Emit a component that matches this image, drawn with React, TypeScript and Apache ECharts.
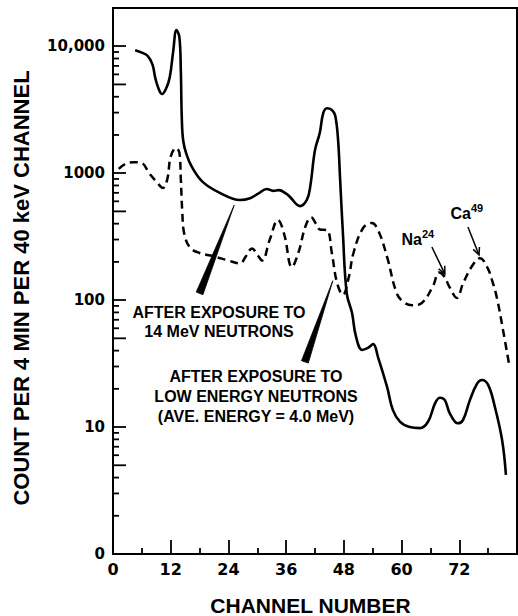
import React, { useEffect, useRef } from 'react';
import * as echarts from 'echarts';

// ---- Axis ticks / labels ----
const xTickValues = [0, 12, 24, 36, 48, 60, 72];
const xTickLabels = ['0', '12', '24', '36', '48', '60', '72'];
const yTickValues = [1, 10, 100, 1000, 10000];
const yTickLabels = ['0', '10', '100', '1000', '10,000'];
const yMinorTickValues = [
  2, 3, 4, 5, 6, 7, 8, 9,
  20, 30, 40, 50, 60, 70, 80, 90,
  200, 300, 400, 500, 600, 700, 800, 900,
  2000, 3000, 4000, 5000, 6000, 7000, 8000, 9000,
];
const yMidTickValues = [5, 50, 500, 5000];

// ---- After exposure to 14 MeV neutrons (solid) ----
const solidChannels = [
  4.6, 6.0, 7.2, 8.2, 8.8, 9.5, 10.2, 11.0, 11.8, 12.5, 13.2, 13.8, 14.1, 14.3, 14.6, 15.3, 16.4,
  18.7, 22.2, 26.4, 28.5, 30.2, 32.0, 33.3, 34.5, 36.0, 36.8, 38.9, 40.3, 41.0, 42.0, 43.0, 43.7,
  44.5, 45.5, 46.2, 46.8, 47.2, 47.8, 48.6, 49.7, 50.5, 51.8, 53.0, 54.1, 55.1, 57.0, 58.2, 59.7,
  61.7, 63.8, 65.5, 67.0, 68.0, 69.0, 70.0, 71.7, 72.8, 74.2, 75.7, 76.7, 78.0, 79.4, 80.9, 81.7,
];
const solidCounts = [
  9300, 8900, 8400, 7200, 5600, 4600, 4200, 4600, 5700, 9000, 13400, 11800, 6500, 2750, 1800, 1400, 1120,
  850, 700, 615, 635, 690, 750, 725, 735, 690, 650, 550, 615, 780, 1520, 2080, 2960,
  3250, 3150, 2850, 1820, 930, 338, 113, 79, 52, 40.5, 42, 45, 35.6, 20.6, 13.6, 11,
  10, 9.8, 11, 15.5, 17, 16.3, 12.9, 10.7, 11.4, 16.3, 22, 23.5, 21.5, 14.4, 7.9, 4.2,
];

// ---- After exposure to low energy neutrons (dashed) ----
const dashedChannels = [
  1.2, 2.5, 4.2, 6.0, 7.5, 9.0, 10.4, 11.3, 12.0, 13.1, 13.8, 14.1, 14.4, 14.8, 16.0, 18.0, 20.8,
  24.0, 26.4, 27.6, 28.9, 30.0, 31.0, 32.6, 34.3, 35.6, 37.2, 38.6, 40.0, 41.2, 42.2, 43.0, 44.5,
  45.5, 46.6, 47.8, 49.0, 50.0, 52.0, 53.8, 55.2, 57.0, 59.0, 60.5, 62.2, 64.2, 66.5, 67.8, 68.8,
  70.0, 71.5, 72.8, 74.8, 76.3, 77.8, 78.8, 79.8, 81.1, 82.3,
];
const dashedCounts = [
  1080, 1180, 1220, 1200, 1000, 860, 765, 900, 1350, 1580, 1450, 900, 500, 335, 260, 235, 222,
  205, 195, 220, 255, 228, 205, 300, 427, 330, 182, 240, 380, 450, 400, 360, 355,
  235, 136, 110, 150, 235, 370, 405, 350, 218, 113, 96, 91, 95, 128, 165, 155,
  126, 104, 136, 189, 214, 182, 144, 105, 58, 32,
];

// ---- Annotation anchors (data units: [channel, count]) ----
const wedge14 = { apex: [25.2, 560], base: [18.0, 113] };
const wedgeLow = { apex: [45.7, 142], base: [39.9, 32.6] };
const arrowNa = { from: [66.3, 262], to: [69.0, 161] };
const arrowCa = { from: [73.8, 377], to: [76.1, 227] };

const BOLD_SANS = 'Liberation Sans';
const LABEL_FONT = 'DejaVu Sans';

const fmtX = (v: number) => {
  const i = xTickValues.findIndex((t) => Math.abs(t - v) < 1e-6);
  return i >= 0 ? xTickLabels[i] : '';
};
const fmtY = (v: number) => {
  const i = yTickValues.findIndex((t) => Math.abs(t - v) / t < 1e-6);
  return i >= 0 ? yTickLabels[i] : '';
};

const App = () => {
  const ref = useRef<HTMLDivElement>(null);
  useEffect(() => {
    const chart = echarts.init(ref.current as HTMLDivElement, null, { renderer: 'svg' });
    const option: any = {
      animation: false,
      backgroundColor: '#ffffff',
      grid: {
        left: 113, right: 1, top: 8, bottom: 62,
        show: true, borderColor: '#000', borderWidth: 2, backgroundColor: 'transparent',
      },
      xAxis: {
        type: 'value', min: 0, max: 84, interval: 12,
        axisLine: { show: true, lineStyle: { color: '#000', width: 2 } },
        axisTick: { show: true, inside: true, length: 14, lineStyle: { color: '#000', width: 1.8 } },
        minorTick: { show: true, splitNumber: 2, length: 6, lineStyle: { color: '#000', width: 1.8 } },
        axisLabel: {
          show: true, margin: 7, color: '#000', fontFamily: LABEL_FONT, fontWeight: 'bold', fontSize: 16,
          formatter: fmtX, showMaxLabel: false,
        },
        splitLine: { show: false },
        minorSplitLine: { show: false },
      },
      yAxis: {
        type: 'log', logBase: 10, min: 1, max: 20000,
        axisLine: { show: true, lineStyle: { color: '#000', width: 2 } },
        axisTick: { show: true, inside: true, length: 13, lineStyle: { color: '#000', width: 1.8 } },
        axisLabel: {
          show: true, margin: 8, color: '#000', fontFamily: LABEL_FONT, fontWeight: 'bold', fontSize: 15,
          formatter: fmtY,
        },
        splitLine: { show: false },
      },
      series: [
        {
          name: 'After exposure to 14 MeV neutrons',
          type: 'line',
          data: solidChannels.map((c, i) => [c, solidCounts[i]]),
          smooth: 0.4,
          symbol: 'none',
          lineStyle: { color: '#000', width: 2.6 },
          z: 3,
        },
        {
          name: 'After exposure to low energy neutrons',
          type: 'line',
          data: dashedChannels.map((c, i) => [c, dashedCounts[i]]),
          smooth: 0.4,
          symbol: 'none',
          lineStyle: { color: '#000', width: 2.5, type: [8, 5] },
          z: 3,
        },
      ],
    };
    chart.setOption(option);

    const px = (p: number[]) => chart.convertToPixel({ gridIndex: 0 } as any, p) as number[];

    const graphics: any[] = [];

    // y minor ticks (log-spaced), drawn as small slanted-free polygons (thin quads)
    for (let i = 0; i < yMinorTickValues.length; i++) {
      const v = yMinorTickValues[i];
      const p = px([0, v]);
      const len = yMidTickValues.indexOf(v) >= 0 ? 13 : 6;
      graphics.push({
        type: 'polygon',
        shape: {
          points: [
            [p[0], p[1] - 0.9],
            [p[0] + len, p[1] - 0.9],
            [p[0] + len, p[1] + 0.9],
            [p[0], p[1] + 0.9],
          ],
        },
        style: { fill: '#000' },
        z: 30,
      });
    }

    const wedge = (w: { apex: number[]; base: number[] }) => {
      const a = px(w.apex);
      const b = px(w.base);
      const dx = b[0] - a[0];
      const dy = b[1] - a[1];
      const L = Math.hypot(dx, dy);
      const nx = -dy / L;
      const ny = dx / L;
      const hw = 3.6;
      return {
        type: 'polygon',
        shape: { points: [a, [b[0] + nx * hw, b[1] + ny * hw], [b[0] - nx * hw, b[1] - ny * hw]] },
        style: { fill: '#000', stroke: '#000', lineWidth: 0.8 },
        z: 10,
      };
    };
    const arrow = (ar: { from: number[]; to: number[] }) => {
      const s = px(ar.from);
      const t = px(ar.to);
      const dx = s[0] - t[0];
      const dy = s[1] - t[1];
      const L = Math.hypot(dx, dy);
      const ux = dx / L;
      const uy = dy / L;
      const ang = (25 * Math.PI) / 180;
      const hl = 8;
      const r = (a: number) => [
        t[0] + hl * (ux * Math.cos(a) - uy * Math.sin(a)),
        t[1] + hl * (ux * Math.sin(a) + uy * Math.cos(a)),
      ];
      return [
        {
          type: 'line',
          shape: { x1: s[0], y1: s[1], x2: t[0], y2: t[1] },
          style: { stroke: '#000', lineWidth: 1.5 },
          z: 10,
        },
        {
          type: 'polyline',
          shape: { points: [r(ang), t, r(-ang)] },
          style: { stroke: '#000', lineWidth: 1.5, fill: 'none' },
          z: 10,
        },
      ];
    };
    const txt = (text: string, x: number, y: number, size: number, align = 'center', extra: any = {}) => ({
      type: 'text',
      x,
      y,
      z: 11,
      ...extra,
      style: {
        text,
        fill: '#000',
        fontFamily: BOLD_SANS,
        fontWeight: 'bold',
        fontSize: size,
        align,
        verticalAlign: 'middle',
        ...(extra.style || {}),
      },
    });

    graphics.push(
      wedge(wedge14),
      wedge(wedgeLow),
      ...arrow(arrowNa),
      ...arrow(arrowCa),
      txt('AFTER EXPOSURE TO\n14 MeV NEUTRONS', 219, 322, 16, 'center', { style: { lineHeight: 19.5 } }),
      txt('AFTER EXPOSURE TO\nLOW ENERGY NEUTRONS\n(AVE. ENERGY = 4.0 MeV)', 256, 396.5, 16, 'center', {
        style: { lineHeight: 19.8 },
      }),
      txt('Na', 422, 239, 16, 'right'),
      txt('24', 422, 234, 11, 'left'),
      txt('Ca', 471, 213, 16, 'right'),
      txt('49', 471, 208, 11, 'left'),
      txt('COUNT PER 4 MIN PER 40 keV CHANNEL', 21, 288, 22, 'center', { rotation: Math.PI / 2 }),
      txt('CHANNEL NUMBER', 310.5, 605, 21, 'center'),
    );
    chart.setOption({ graphic: graphics });
    return () => chart.dispose();
  }, []);
  return (
    <div
      ref={ref}
      style={{ position: 'absolute', left: 0, top: 0, width: 518, height: 616, background: '#fff' }}
    />
  );
};

export default App;
